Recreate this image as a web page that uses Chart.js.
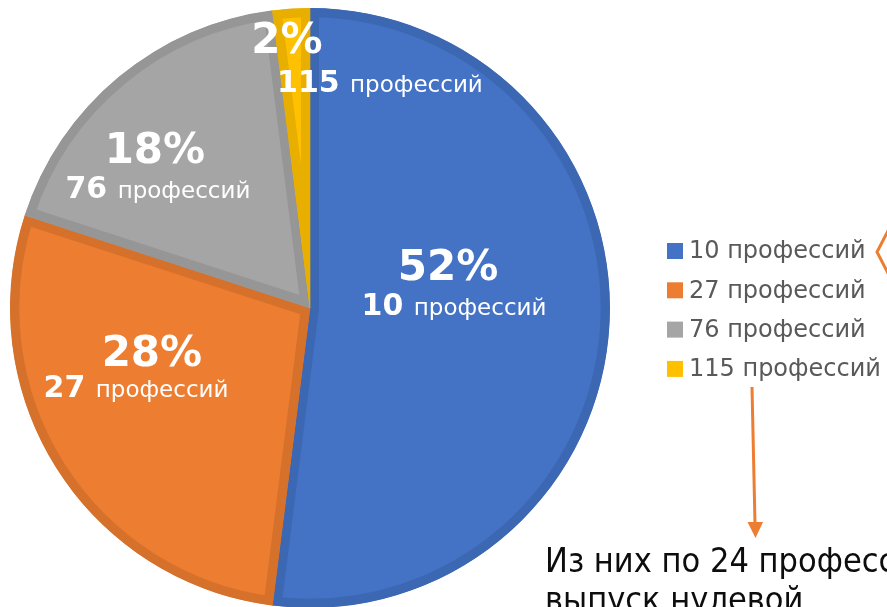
<!DOCTYPE html>
<html>
<head>
<meta charset="utf-8">
<script src="https://cdn.jsdelivr.net/npm/chart.js@4/dist/chart.umd.min.js"></script>
<style>
  html, body { margin: 0; padding: 0; background: #ffffff; overflow: hidden; }
  #wrap { width: 887px; height: 607px; overflow: hidden; position: relative; }
  canvas { display: block; }
</style>
</head>
<body>
<div id="wrap"><canvas id="c" width="887" height="616"></canvas></div>
<script>
// ---- data ----
const categories = ['10 профессий', '27 профессий', '76 профессий', '115 профессий'];
const shares = [52, 28, 18, 2];
const counts = ['10', '27', '76', '115'];
const unitWord = 'профессий';
const noteLines = ['Из них по 24 профессиям', 'выпуск нулевой'];

// ---- styles ----
const fills = ['#4472C4', '#ED7D31', '#A5A5A5', '#FFC000'];
const borders = ['#3C67B3', '#D6712C', '#969696', '#E8AE00'];
const FONT = '"DejaVu Sans", Verdana, sans-serif';
const NOTE_FONT = '"DejaVu Sans Condensed", "DejaVu Sans", sans-serif';

// label placement: [dx1, dy1, dx2, dy2] as fractions of the radius from pie centre (baselines)
const labelPos = [
  [0.46, -0.093, 0.48, 0.023],
  [-0.527, 0.193, -0.58, 0.297],
  [-0.517, -0.483, -0.507, -0.367],
  [-0.077, -0.85, 0.233, -0.72]
];

const labelPlugin = {
  id: 'sliceLabels',
  afterDatasetsDraw(chart) {
    const ctx = chart.ctx;
    const meta = chart.getDatasetMeta(0);
    ctx.save();
    ctx.fillStyle = '#ffffff';
    ctx.textBaseline = 'alphabetic';
    meta.data.forEach((arc, i) => {
      const { x, y, outerRadius: r } = arc.getProps(['x', 'y', 'outerRadius'], true);
      const p = labelPos[i];
      ctx.font = 'bold 42px ' + FONT;
      ctx.textAlign = 'center';
      ctx.fillText(shares[i] + '%', x + p[0] * r, y + p[1] * r);
      const boldF = 'bold 30px ' + FONT;
      const regF = '23px ' + FONT;
      ctx.font = boldF;
      const w1 = ctx.measureText(counts[i] + ' ').width;
      ctx.font = regF;
      const w2 = ctx.measureText(unitWord).width;
      const total = w1 + w2;
      const cx = x + p[2] * r, by = y + p[3] * r;
      ctx.textAlign = 'left';
      ctx.font = boldF;
      ctx.fillText(counts[i] + ' ', cx - total / 2, by);
      ctx.font = regF;
      ctx.fillText(unitWord, cx - total / 2 + w1, by);
    });
    ctx.restore();
  }
};

const legendPlugin = {
  id: 'sideLegend',
  afterDraw(chart) {
    const ctx = chart.ctx;
    ctx.save();
    const x0 = 667, y0 = 251, step = 39.3;
    chart.data.labels.forEach((lab, i) => {
      const yc = y0 + i * step;
      ctx.fillStyle = chart.data.datasets[0].backgroundColor[i];
      ctx.fillRect(x0, yc - 8, 16, 16);
      ctx.fillStyle = '#595959';
      ctx.font = '24px ' + FONT;
      ctx.textAlign = 'left';
      ctx.textBaseline = 'middle';
      ctx.fillText(lab, x0 + 22, yc + 1);
    });
    ctx.restore();
  }
};

const notePlugin = {
  id: 'note',
  afterDraw(chart) {
    const ctx = chart.ctx;
    ctx.save();
    ctx.strokeStyle = '#ED7D31';
    ctx.fillStyle = '#ED7D31';
    ctx.lineWidth = 3;
    ctx.beginPath();
    ctx.moveTo(752, 387);
    ctx.lineTo(755, 524);
    ctx.stroke();
    ctx.beginPath();
    ctx.moveTo(747.5, 522);
    ctx.lineTo(763, 522);
    ctx.lineTo(755.5, 538);
    ctx.closePath();
    ctx.fill();
    ctx.lineWidth = 3;
    ctx.lineJoin = 'miter';
    ctx.beginPath();
    ctx.moveTo(889, 229);
    ctx.lineTo(877, 252);
    ctx.lineTo(889, 275);
    ctx.stroke();
    ctx.fillStyle = '#0D0D0D';
    ctx.font = '34px ' + NOTE_FONT;
    ctx.textAlign = 'left';
    ctx.textBaseline = 'alphabetic';
    ctx.fillText(noteLines[0], 545, 572);
    ctx.fillText(noteLines[1], 545, 611);
    ctx.restore();
  }
};

new Chart(document.getElementById('c'), {
  type: 'pie',
  data: {
    labels: categories,
    datasets: [{
      data: shares,
      backgroundColor: fills,
      borderColor: borders,
      borderWidth: 9,
      borderAlign: 'inner',
      hoverOffset: 0
    }]
  },
  options: {
    responsive: false,
    animation: false,
    devicePixelRatio: 1,
    events: [],
    layout: { padding: { left: 10, right: 277, top: 8, bottom: 8 } },
    plugins: {
      legend: { display: false },
      tooltip: { enabled: false },
      title: { display: false }
    }
  },
  plugins: [labelPlugin, legendPlugin, notePlugin]
});
</script>
</body>
</html>
